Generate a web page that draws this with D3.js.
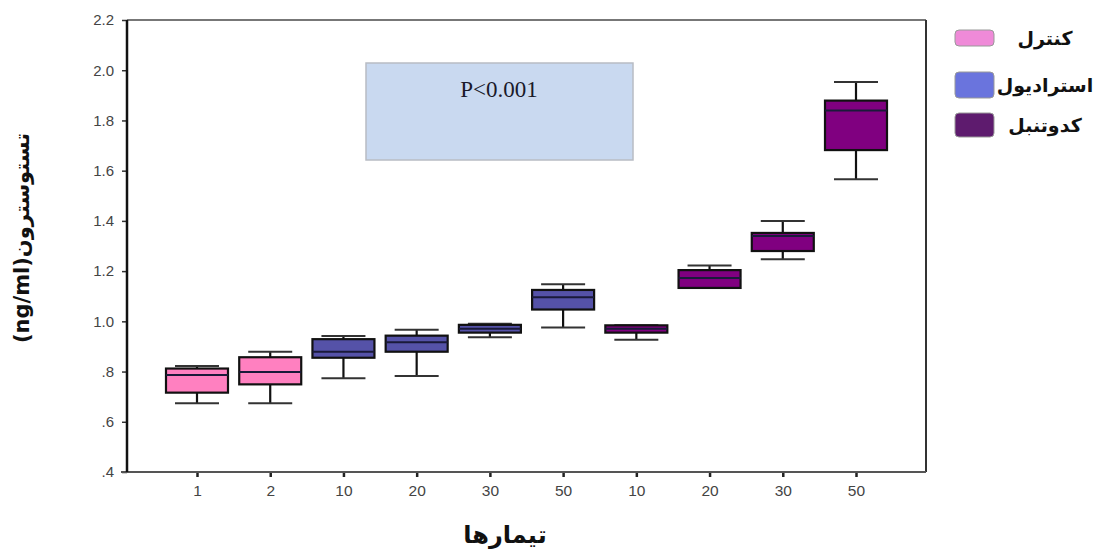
<!DOCTYPE html>
<html>
<head>
<meta charset="utf-8">
<script src="https://cdn.jsdelivr.net/npm/d3@7"></script>
<style>
  body { margin: 0; background: #fff; }
  svg { display: block; }
</style>
</head>
<body>
<div id="chart"></div>
<script>
// group per box (0 = control, 1 = estradiol, 2 = pumpkin)
const groups = [0, 0, 1, 1, 1, 1, 2, 2, 2, 2];
const xLabels = ["1", "2", "10", "20", "30", "50", "10", "20", "30", "50"];

// box plot stats
const whiskerLow  = [0.674, 0.674, 0.773, 0.782, 0.937, 0.975, 0.927, 1.133, 1.247, 1.566];
const q1          = [0.716, 0.749, 0.855, 0.879, 0.955, 1.047, 0.955, 1.133, 1.280, 1.682];
const medians     = [0.786, 0.798, 0.879, 0.917, 0.970, 1.096, 0.970, 1.173, 1.340, 1.840];
const q3          = [0.812, 0.857, 0.929, 0.943, 0.986, 1.125, 0.984, 1.204, 1.352, 1.879];
const whiskerHigh = [0.822, 0.879, 0.942, 0.966, 0.990, 1.148, 0.984, 1.222, 1.400, 1.953];

const yTicks = [0.4, 0.6, 0.8, 1.0, 1.2, 1.4, 1.6, 1.8, 2.0, 2.2];

const legendNames = ["کنترل", "استرادیول", "کدوتنبل"];
const boxColors = ["#ff80c0", "#5552a8", "#800080"];
const legendColors = ["#ef8ad8", "#6a74dd", "#5e1b6e"];

const pText = "P<0.001";
const yTitle = "تستوسترون(ng/ml)";
const xTitle = "تیمارها";

const width = 1094, height = 553;
const margin = { left: 127, top: 20, right: 168, bottom: 81 };
const plotRight = width - margin.right;
const plotBottom = height - margin.bottom;

const svg = d3.select('#chart').append('svg')
    .attr('width', width)
    .attr('height', height);

const x = d3.scalePoint()
    .domain(d3.range(xLabels.length))
    .range([margin.left, plotRight])
    .padding(0.956);

const y = d3.scaleLinear()
    .domain([0.4, 2.2])
    .range([plotBottom, margin.top]);

const boxW = 62, capW = 44;

// P value box
svg.append('rect')
    .attr('x', 366).attr('y', 63)
    .attr('width', 267).attr('height', 97)
    .attr('fill', '#c9d9f0')
    .attr('stroke', '#b8bcc4')
    .attr('stroke-width', 1.5);

svg.append('text')
    .attr('x', 499).attr('y', 97)
    .attr('text-anchor', 'middle')
    .attr('font-family', '"Liberation Serif", "DejaVu Serif", serif')
    .attr('font-size', 23)
    .attr('fill', '#1a1a2a')
    .text(pText);

// axes
const yAxis = d3.axisLeft(y)
    .tickValues(yTicks)
    .tickSize(5)
    .tickPadding(8)
    .tickFormat(d => d >= 1 ? d3.format('.1f')(d) : d3.format('.1f')(d).replace(/^0/, ''));

const yG = svg.append('g')
    .attr('transform', `translate(${margin.left},0)`)
    .call(yAxis);
yG.select('.domain').remove();
yG.selectAll('.tick line').attr('stroke', '#333').attr('stroke-width', 1.5);
yG.selectAll('.tick text')
    .attr('font-family', '"Liberation Sans", Arial, sans-serif')
    .attr('font-size', 15)
    .attr('fill', '#444');

const xAxis = d3.axisBottom(x)
    .tickSize(5)
    .tickPadding(8)
    .tickFormat(i => xLabels[i]);

const xG = svg.append('g')
    .attr('transform', `translate(0,${plotBottom})`)
    .call(xAxis);
xG.select('.domain').remove();
xG.selectAll('.tick line').attr('stroke', '#222').attr('stroke-width', 2.5);
xG.selectAll('.tick text')
    .attr('font-family', '"Liberation Sans", Arial, sans-serif')
    .attr('font-size', 15.5)
    .attr('fill', '#444');

// frame
svg.append('line')
    .attr('x1', margin.left).attr('x2', plotRight)
    .attr('y1', margin.top).attr('y2', margin.top)
    .attr('stroke', '#777').attr('stroke-width', 2);
svg.append('line')
    .attr('x1', plotRight).attr('x2', plotRight)
    .attr('y1', margin.top).attr('y2', plotBottom)
    .attr('stroke', '#333').attr('stroke-width', 2);
svg.append('line')
    .attr('x1', margin.left - 6).attr('x2', plotRight)
    .attr('y1', plotBottom).attr('y2', plotBottom)
    .attr('stroke', '#555').attr('stroke-width', 2);
svg.append('line')
    .attr('x1', margin.left).attr('x2', margin.left)
    .attr('y1', margin.top).attr('y2', plotBottom)
    .attr('stroke', '#111').attr('stroke-width', 2.5);

// boxes
const boxes = svg.append('g').selectAll('g')
    .data(d3.range(xLabels.length))
    .join('g');

boxes.append('line')
    .attr('x1', i => x(i)).attr('x2', i => x(i))
    .attr('y1', i => y(whiskerHigh[i])).attr('y2', i => y(q3[i]))
    .attr('stroke', '#111').attr('stroke-width', 2.2);
boxes.append('line')
    .attr('x1', i => x(i)).attr('x2', i => x(i))
    .attr('y1', i => y(q1[i])).attr('y2', i => y(whiskerLow[i]))
    .attr('stroke', '#111').attr('stroke-width', 2.2);
boxes.append('line')
    .attr('x1', i => x(i) - capW / 2).attr('x2', i => x(i) + capW / 2)
    .attr('y1', i => y(whiskerHigh[i])).attr('y2', i => y(whiskerHigh[i]))
    .attr('stroke', '#333').attr('stroke-width', 2);
boxes.append('line')
    .attr('x1', i => x(i) - capW / 2).attr('x2', i => x(i) + capW / 2)
    .attr('y1', i => y(whiskerLow[i])).attr('y2', i => y(whiskerLow[i]))
    .attr('stroke', '#333').attr('stroke-width', 2);
boxes.append('rect')
    .attr('x', i => x(i) - boxW / 2)
    .attr('y', i => y(q3[i]))
    .attr('width', boxW)
    .attr('height', i => y(q1[i]) - y(q3[i]))
    .attr('fill', i => boxColors[groups[i]])
    .attr('stroke', '#111')
    .attr('stroke-width', 2.2);
boxes.append('line')
    .attr('x1', i => x(i) - boxW / 2).attr('x2', i => x(i) + boxW / 2)
    .attr('y1', i => y(medians[i])).attr('y2', i => y(medians[i]))
    .attr('stroke', '#1a1a3a').attr('stroke-width', 2);

// legend
const legendY = [38, 85, 125];
const swatchH = [16, 26, 24];
const legend = svg.append('g').selectAll('g')
    .data(legendNames)
    .join('g');
legend.append('rect')
    .attr('x', 955)
    .attr('y', (d, i) => legendY[i] - swatchH[i] / 2)
    .attr('width', 39)
    .attr('height', (d, i) => swatchH[i])
    .attr('rx', 4)
    .attr('fill', (d, i) => legendColors[i])
    .attr('stroke', '#999')
    .attr('stroke-width', 1);
legend.append('text')
    .attr('x', 1045)
    .attr('y', (d, i) => legendY[i])
    .attr('dy', '0.35em')
    .attr('text-anchor', 'middle')
    .attr('direction', 'rtl')
    .attr('font-family', '"DejaVu Sans", sans-serif')
    .attr('font-weight', 'bold')
    .attr('font-size', 19)
    .attr('fill', '#111')
    .text(d => d);

// axis titles
svg.append('text')
    .attr('transform', `translate(29,${(margin.top + plotBottom) / 2 - 8}) rotate(-90)`)
    .attr('text-anchor', 'middle')
    .attr('direction', 'rtl')
    .attr('font-family', '"DejaVu Sans", sans-serif')
    .attr('font-weight', 'bold')
    .attr('font-size', 21)
    .attr('fill', '#111')
    .text(yTitle);

svg.append('text')
    .attr('x', 505).attr('y', 543)
    .attr('text-anchor', 'middle')
    .attr('direction', 'rtl')
    .attr('font-family', '"DejaVu Sans", sans-serif')
    .attr('font-weight', 'bold')
    .attr('font-size', 24)
    .attr('fill', '#111')
    .text(xTitle);
</script>
</body>
</html>
